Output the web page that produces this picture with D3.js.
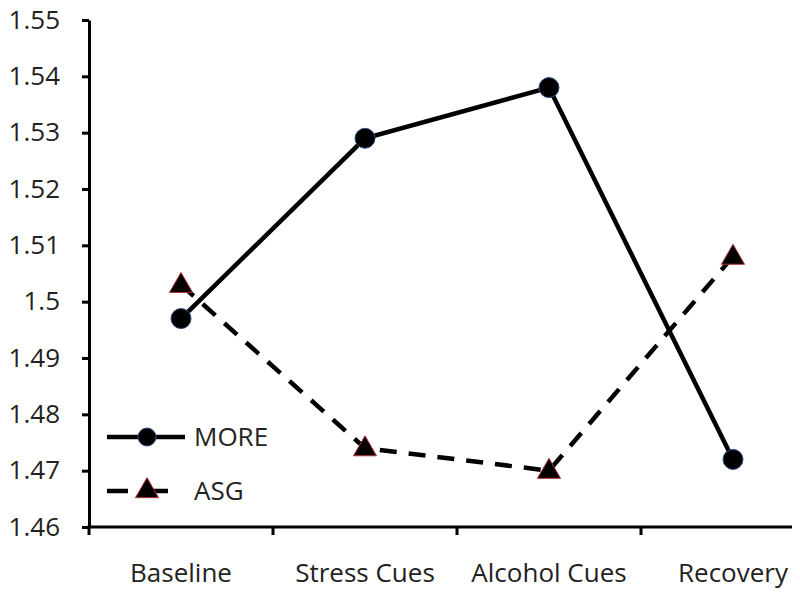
<!DOCTYPE html>
<html><head><meta charset="utf-8">
<script src="https://cdn.jsdelivr.net/npm/d3@7"></script>
<style>body{margin:0;background:#fff}svg{display:block}text{font-family:"Open Sans",sans-serif;fill:#222}</style>
</head><body><svg id="c" width="800" height="598"></svg>
<script>
const categories = ["Baseline","Stress Cues","Alcohol Cues","Recovery"];
const moreValues = [1.497, 1.529, 1.538, 1.472];
const asgValues = [1.503, 1.474, 1.470, 1.508];
const yTicks = [1.46,1.47,1.48,1.49,1.50,1.51,1.52,1.53,1.54,1.55];
const seriesNames = ["MORE","ASG"];

const svg = d3.select("#c");
const L=89, R=825, axisEnd=792, T=20, B=527;
const FONT = "'Open Sans',sans-serif";
const FS = 26;
const x = d3.scaleBand().domain(categories).range([L,R]);
const y = d3.scaleLinear().domain([1.46,1.55]).range([B,T]);

const fmt = d=> d===1.5 ? "1.5" : d3.format(".2f")(d);
const ya = svg.append("g").attr("transform",`translate(${L},0)`)
  .call(d3.axisLeft(y).tickValues(yTicks).tickFormat(fmt).tickSize(7).tickPadding(22).tickSizeOuter(0));
const xa = svg.append("g").attr("transform",`translate(0,${B})`)
  .call(d3.axisBottom(x).tickSize(0).tickPadding(37).tickSizeOuter(0));
xa.select(".domain").remove();
svg.append("line").attr("x1",L-1.5).attr("x2",axisEnd).attr("y1",B).attr("y2",B).attr("stroke","#000").attr("stroke-width",3);
[ya,xa].forEach(a=>{a.select(".domain").attr("stroke","#000").attr("stroke-width",3);
  a.selectAll("text").attr("font-size",FS).attr("fill","#222").style("font-family",FONT);
  a.selectAll(".tick line").attr("stroke","#000").attr("stroke-width",3);});
// category separator ticks
const seps = categories.map(c=>x(c));
svg.append("g").selectAll("line").data(seps).join("line")
  .attr("x1",d=>d).attr("x2",d=>d).attr("y1",B).attr("y2",B+8).attr("stroke","#000").attr("stroke-width",3);

const cx = c=> x(c)+x.bandwidth()/2;
const line = d3.line().x((d,i)=>cx(categories[i])).y(d=>y(d));
svg.append("path").datum(moreValues).attr("d",line).attr("fill","none").attr("stroke","#000").attr("stroke-width",4.5);
svg.append("path").datum(asgValues).attr("d",line).attr("fill","none").attr("stroke","#000").attr("stroke-width",4.5).attr("stroke-dasharray","17,12");

const tri = d3.symbol().type(d3.symbolTriangle).size(230);
svg.append("g").selectAll("path").data(asgValues).join("path")
  .attr("d",tri).attr("transform",(d,i)=>`translate(${cx(categories[i])},${y(d)+1})`)
  .attr("fill","#000").attr("stroke","#b03030").attr("stroke-width",1);
svg.append("g").selectAll("circle").data(moreValues).join("circle")
  .attr("cx",(d,i)=>cx(categories[i])).attr("cy",d=>y(d)).attr("r",10)
  .attr("fill","#000").attr("stroke","#2a4a80").attr("stroke-width",1);

// legend
const lg = svg.append("g");
lg.append("line").attr("x1",107).attr("x2",185).attr("y1",437).attr("y2",437).attr("stroke","#000").attr("stroke-width",4.5);
lg.append("circle").attr("cx",147).attr("cy",437).attr("r",9).attr("fill","#000").attr("stroke","#2a4a80");
lg.append("text").attr("x",194).attr("y",446).attr("font-size",FS).style("font-family",FONT).text(seriesNames[0]);
lg.append("line").attr("x1",107).attr("x2",168).attr("y1",491).attr("y2",491).attr("stroke","#000").attr("stroke-width",4.5).attr("stroke-dasharray","21,19,30");
lg.append("path").attr("d",tri).attr("transform","translate(147,491)").attr("fill","#000").attr("stroke","#b03030");
lg.append("text").attr("x",194).attr("y",500).attr("font-size",FS).style("font-family",FONT).text(seriesNames[1]);
</script></body></html>
